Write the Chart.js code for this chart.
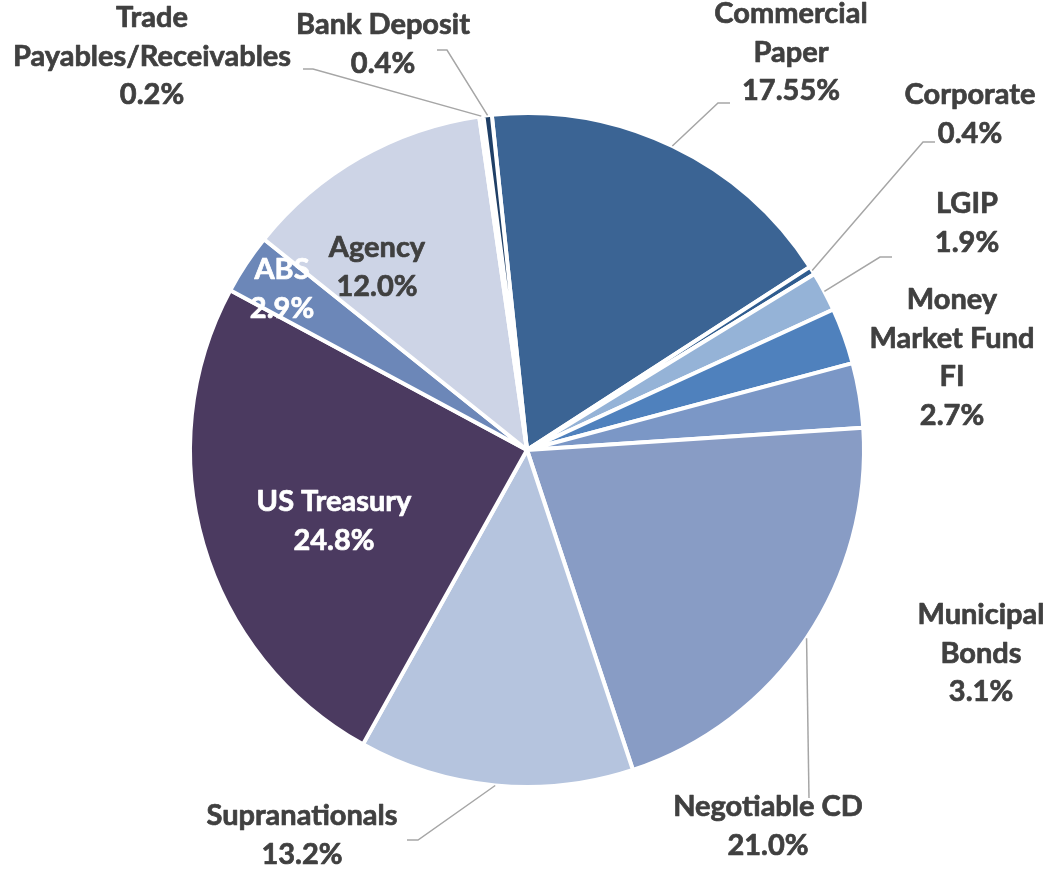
<!DOCTYPE html>
<html>
<head>
<meta charset="utf-8">
<script src="https://cdn.jsdelivr.net/npm/chart.js@4.4.1/dist/chart.umd.min.js"></script>
<style>
  html, body { margin: 0; padding: 0; background: #ffffff; }
  #wrap { width: 1047px; height: 869px; }
</style>
</head>
<body>
<div id="wrap"><canvas id="pieChart" width="1047" height="869"></canvas></div>
<script>
'use strict';

// Portfolio mix, clockwise from just left of 12 o'clock
const categories = ['Commercial Paper', 'Corporate', 'LGIP', 'Money Market Fund FI', 'Municipal Bonds',
    'Negotiable CD', 'Supranationals', 'US Treasury', 'ABS', 'Agency', 'Trade Payables/Receivables', 'Bank Deposit'];
const shares = [17.55, 0.4, 1.9, 2.7, 3.1, 21.0, 13.2, 24.8, 2.9, 12.0, 0.2, 0.4];
const labelLines = [
    ['Commercial', 'Paper'], ['Corporate'], ['LGIP'], ['Money', 'Market Fund', 'FI'], ['Municipal', 'Bonds'],
    ['Negotiable CD'], ['Supranationals'], ['US Treasury'], ['ABS'], ['Agency'], ['Trade', 'Payables/Receivables'], ['Bank Deposit']
];

const sliceColors = ['#3b6494', '#2f5c8f', '#95b3d7', '#4f81bd', '#7b97c6',
    '#889cc5', '#b5c4de', '#4b3a60', '#6c87b8', '#cdd4e6', '#e4e8f1', '#1f3f66'];

// where each label sits, and the elbow of its leader line (null = no leader)
const labelSpots = [
    { x: 791, y: 14, color: '#404040', leader: [[730, 103], [718, 103]] },
    { x: 970, y: 95, color: '#404040', leader: [[935, 142], [923, 142]] },
    { x: 967, y: 204, color: '#404040', leader: [[892, 257], [880, 257]] },
    { x: 952, y: 300, color: '#404040', leader: null },
    { x: 981, y: 615, color: '#404040', leader: null },
    { x: 768, y: 807, color: '#404040', leader: [[809, 798]] },
    { x: 302, y: 816, color: '#404040', leader: [[407, 840], [418, 840]] },
    { x: 334, y: 502, color: '#ffffff', leader: null },
    { x: 282, y: 270, color: '#ffffff', leader: null },
    { x: 377, y: 248, color: '#404040', leader: null },
    { x: 152, y: 18, color: '#404040', leader: [[303, 69], [313, 69]] },
    { x: 383, y: 25, color: '#404040', leader: [[437, 50], [447, 50]] }
];
const lineStep = 38.5;

function formatShare(v) {
    return Number.isInteger(Math.round(v * 100) / 10) ? v.toFixed(1) + '%' : v.toFixed(2) + '%';
}

const sliceLabels = {
    id: 'sliceLabels',
    afterDatasetsDraw(chart) {
        const ctx = chart.ctx;
        const arcs = chart.getDatasetMeta(0).data;
        ctx.save();
        // leader lines first
        ctx.strokeStyle = '#a6a6a6';
        ctx.lineWidth = 1.5;
        arcs.forEach((arc, i) => {
            const spot = labelSpots[i];
            if (!spot.leader) return;
            const mid = (arc.startAngle + arc.endAngle) / 2;
            const px = arc.x + Math.cos(mid) * arc.outerRadius;
            const py = arc.y + Math.sin(mid) * arc.outerRadius;
            ctx.beginPath();
            ctx.moveTo(spot.leader[0][0], spot.leader[0][1]);
            spot.leader.slice(1).forEach(p => ctx.lineTo(p[0], p[1]));
            ctx.lineTo(px, py);
            ctx.stroke();
        });
        // then the text, with a hairline stroke to thicken it a little
        ctx.font = 'bold 29px Lato, "Open Sans", sans-serif';
        ctx.textAlign = 'center';
        ctx.textBaseline = 'middle';
        ctx.lineWidth = 0.7;
        ctx.lineJoin = 'round';
        arcs.forEach((arc, i) => {
            const spot = labelSpots[i];
            const lines = labelLines[i].concat([formatShare(shares[i])]);
            ctx.fillStyle = spot.color;
            ctx.strokeStyle = spot.color;
            lines.forEach((t, k) => {
                ctx.fillText(t, spot.x, spot.y + k * lineStep);
                ctx.strokeText(t, spot.x, spot.y + k * lineStep);
            });
        });
        ctx.restore();
    }
};

new Chart('pieChart', {
    type: 'pie',
    data: {
        labels: categories,
        datasets: [{
            data: shares,
            backgroundColor: sliceColors,
            borderColor: '#ffffff',
            borderWidth: 4
        }]
    },
    options: {
        responsive: false,
        animation: false,
        rotation: -6,
        layout: { padding: { left: 188, right: 181, top: 111, bottom: 80 } },
        plugins: {
            legend: { display: false },
            tooltip: { enabled: false }
        }
    },
    plugins: [sliceLabels]
});
</script>
</body>
</html>
